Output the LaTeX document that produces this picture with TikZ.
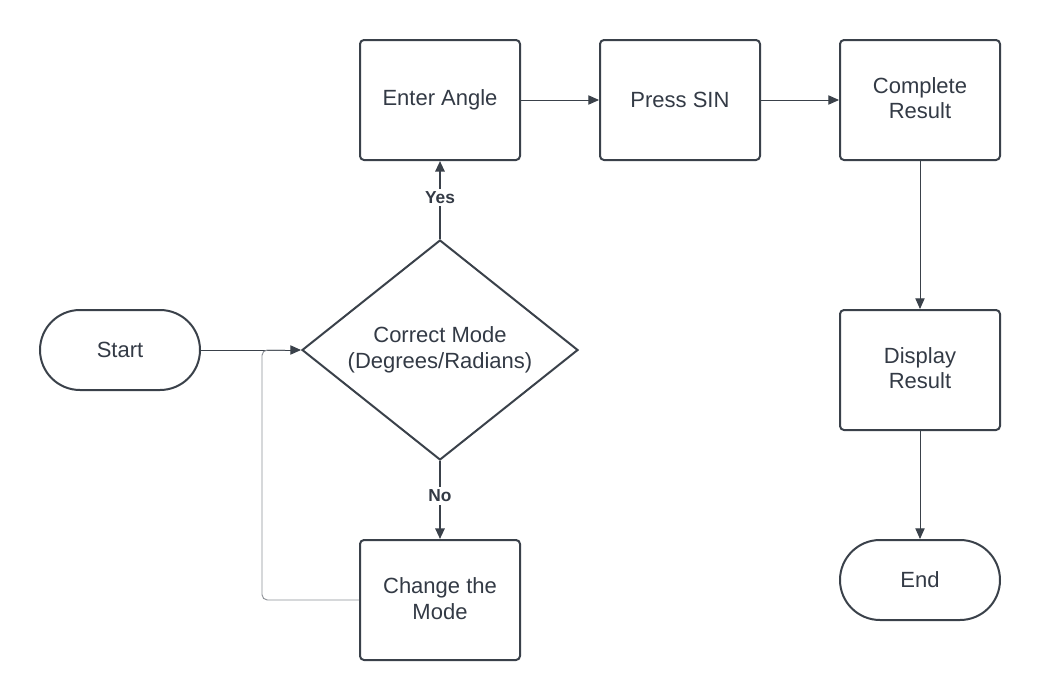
\documentclass[tikz,border=0pt]{standalone}
\usepackage{fontspec}
\setmainfont{Liberation Sans}
\usetikzlibrary{shapes.geometric,arrows.meta}

\definecolor{linecol}{HTML}{3A414A}
\definecolor{textcol}{HTML}{333A45}
\definecolor{loopcol}{HTML}{8C9096}

\begin{document}
\begin{tikzpicture}[%
      x=0.75pt, y=-0.75pt,
      every node/.style={font=\fontsize{16.5}{19.5}\selectfont, text=textcol, align=center},
      box/.style={draw=linecol, line width=1.5pt, rounded corners=3pt, minimum width=120pt, minimum height=90pt, inner sep=0pt},
      term/.style={draw=linecol, line width=1.5pt, rounded corners=30pt, minimum width=120pt, minimum height=60pt, inner sep=0pt},
      decision/.style={draw=linecol, line width=1.5pt, diamond, minimum width=207pt, minimum height=165pt, inner sep=-12pt},
      flow/.style={draw=linecol, line width=0.7pt, -{Triangle[length=8pt,width=7pt]}},
      choice/.style={draw=linecol, line width=1.5pt, -{Triangle[length=8pt,width=7pt]}},
      answer/.style={fill=white, inner sep=2pt, font=\fontsize{13}{15}\selectfont\bfseries},
      ]
      \useasboundingbox (0,0) rectangle (1040,700);

      \node [term] (start) at (120,350) {Start};
      \node [decision] (mode) at (440,350) {Correct Mode\\(Degrees/Radians)};
      \node [box] (angle) at (440,100) {Enter Angle};
      \node [box] (sin) at (680,100) {Press SIN};
      \node [box] (calc) at (920,100) {\raisebox{3pt}{\shortstack{Complete\\[1pt]Result}}};
      \node [box] (show) at (920,370) {\raisebox{3pt}{\shortstack{Display\\[1pt]Result}}};
      \node [term] (finish) at (920,580) {End};
      \node [box] (change) at (440,600) {\raisebox{2pt}{\shortstack{Change the\\[1pt]Mode}}};

      \coordinate (loopdown) at (262,600);
      \coordinate (loopup) at (262,350);

      \draw [flow] (start) -- (mode);
      \draw [choice] (mode) -- node[answer, pos=0.53] {Yes} (angle);
      \draw [choice] (mode) -- node[answer, pos=0.45] {No} (change);
      \draw [color=loopcol, line width=0.7pt, rounded corners=4pt] (change.west) -- (loopdown) -- (loopup) -- ([xshift=-12pt]mode.west);
      \draw [flow] (angle) -- (sin);
      \draw [flow] (sin) -- (calc);
      \draw [flow] (calc) -- (show);
      \draw [flow] (show) -- (finish);
\end{tikzpicture}
\end{document}
